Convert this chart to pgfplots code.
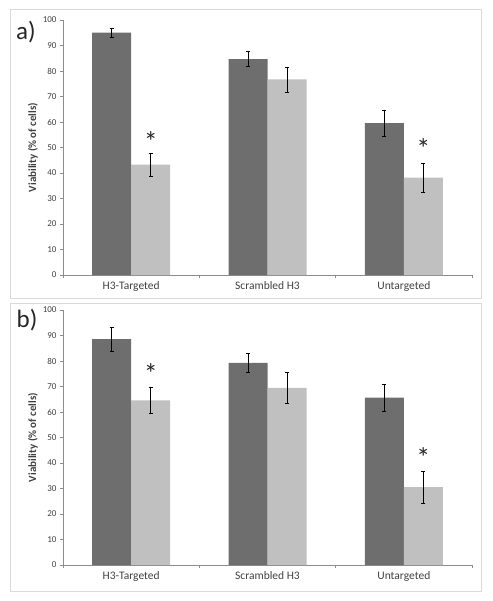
\documentclass[border=0pt]{standalone}
\usepackage{pgfplots}
\pgfplotsset{compat=1.18}
\usepackage{fontspec}
\setmainfont{Carlito}
\definecolor{dk}{HTML}{6E6E6E}
\definecolor{lt}{HTML}{C0C0C0}
\definecolor{axc}{HTML}{8C8C8C}
\definecolor{frc}{HTML}{DADADA}
\definecolor{txt}{HTML}{404040}
\pgfplotsset{panel/.style={
  scale only axis, width=409pt, height=255pt,
  anchor=south west,
  xmin=-0.5, xmax=2.5, ymin=0, ymax=100,
  axis x line*=bottom, axis y line*=left,
  axis line style={axc, line width=0.8pt},
  ybar=0pt, bar width=39pt,
  ytick={0,10,...,100},
  xtick={0,1,2},
  xticklabels={H3-Targeted, Scrambled H3, Untargeted},
  minor xtick={-0.5,0.5,1.5,2.5},
  major x tick style={draw=none},
  tick align=outside,
  major tick length=3pt, minor tick length=3pt,
  tick style={axc, line width=0.8pt},
  /pgf/number format/assume math mode=true,
  yticklabel style={font=\fontsize{9}{10}\selectfont, text=txt},
  xticklabel style={font=\fontsize{11.5}{13}\selectfont, text=txt},
  ylabel={\textbf{Viability (\% of cells)}},
  ylabel style={font=\fontsize{11}{13}\selectfont, text=txt, yshift=-2pt},
  error bars/error bar style={black, line width=0.5pt},
  error bars/error mark options={rotate=90, mark size=2pt, black, line width=0.5pt},
  clip=false,
}}
\begin{document}
\begin{tikzpicture}
\path (0pt,0pt) rectangle (492pt,-601pt);
\draw[frc, line width=1pt] (10pt,-10pt) rectangle (481pt,-298pt);
\draw[frc, line width=1pt] (10pt,-303pt) rectangle (481pt,-591pt);
\node[font=\fontsize{25}{28}\selectfont, text=black!85] at (26pt,-32pt) {a)};
\node[font=\fontsize{25}{28}\selectfont, text=black!85] at (27pt,-320pt) {b)};

\begin{axis}[panel, at={(63pt,-275pt)}]
\addplot[fill=dk, draw=none, error bars/.cd, y dir=both, y explicit]
  coordinates {(0,95) +- (0,1.8) (1,84.7) +- (0,3.0) (2,59.6) +- (0,5.2)};
\addplot[fill=lt, draw=none, error bars/.cd, y dir=both, y explicit]
  coordinates {(0,43.3) +- (0,4.6) (1,76.7) +- (0,4.9) (2,38.2) +- (0,5.7)};
\node[font=\fontsize{28}{30}\selectfont, text=black!85] at (axis cs:0.1435,52.5) {*};
\node[font=\fontsize{28}{30}\selectfont, text=black!85] at (axis cs:2.1435,49.5) {*};
\end{axis}

\begin{axis}[panel, at={(63pt,-565pt)}]
\addplot[fill=dk, draw=none, error bars/.cd, y dir=both, y explicit]
  coordinates {(0,88.6) +- (0,4.6) (1,79.3) +- (0,3.7) (2,65.6) +- (0,5.4)};
\addplot[fill=lt, draw=none, error bars/.cd, y dir=both, y explicit]
  coordinates {(0,64.6) +- (0,5.0) (1,69.5) +- (0,6.1) (2,30.5) +- (0,6.2)};
\node[font=\fontsize{28}{30}\selectfont, text=black!85] at (axis cs:0.1435,75) {*};
\node[font=\fontsize{28}{30}\selectfont, text=black!85] at (axis cs:2.1435,42) {*};
\end{axis}
\end{tikzpicture}
\end{document}
